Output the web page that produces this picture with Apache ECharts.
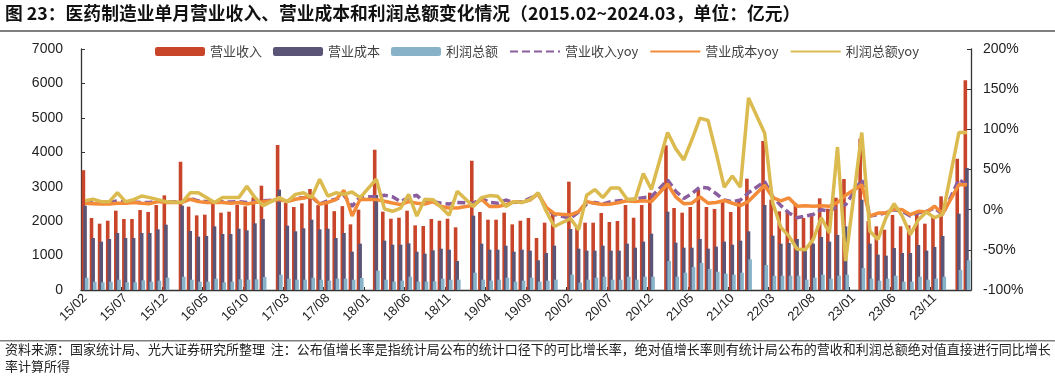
<!DOCTYPE html>
<html><head><meta charset="utf-8">
<script src="https://cdn.jsdelivr.net/npm/echarts@6/dist/echarts.min.js"></script>
<style>html,body{margin:0;padding:0;background:#fff;}#c{width:1055px;height:379px;}</style>
</head><body><div id="c"></div>
<script>
const months = ['15/02','15/03','15/04','15/05','15/06','15/07','15/08','15/09','15/10','15/11','15/12',
'16/01','16/02','16/03','16/04','16/05','16/06','16/07','16/08','16/09','16/10','16/11','16/12',
'17/01','17/02','17/03','17/04','17/05','17/06','17/07','17/08','17/09','17/10','17/11','17/12',
'18/01','18/02','18/03','18/04','18/05','18/06','18/07','18/08','18/09','18/10','18/11','18/12',
'19/01','19/02','19/03','19/04','19/05','19/06','19/07','19/08','19/09','19/10','19/11','19/12',
'20/01','20/02','20/03','20/04','20/05','20/06','20/07','20/08','20/09','20/10','20/11','20/12',
'21/01','21/02','21/03','21/04','21/05','21/06','21/07','21/08','21/09','21/10','21/11','21/12',
'22/01','22/02','22/03','22/04','22/05','22/06','22/07','22/08','22/09','22/10','22/11','22/12',
'23/01','23/02','23/03','23/04','23/05','23/06','23/07','23/08','23/09','23/10','23/11','23/12',
'24/01','24/02','24/03'];

const revenue = [3480,2091,1926,2013,2304,2062,2062,2323,2265,2468,2749,
null,3727,2420,2168,2188,2517,2246,2275,2478,2430,2691,3030,
null,4211,2526,2410,2517,2933,2464,2513,2290,2436,1907,2333,
null,4075,2275,2071,2100,2304,1878,1858,2062,2013,2071,1820,
null,3756,2265,2042,2042,2246,1907,2013,2091,1510,1955,2236,
null,3146,1807,1955,1955,2236,1975,2004,2468,2100,2468,2827,
null,4201,2381,2246,2410,2914,2410,2352,2556,2265,2585,3233,
null,4327,2623,2285,2285,2526,2091,2236,2662,2362,2681,3223,
null,4395,2000,1849,1752,2178,1849,1878,2207,1926,2139,2720,
null,3814,6089];

const cost = [2449,1510,1404,1481,1655,1510,1510,1655,1655,1762,1897,
null,2449,1713,1549,1568,1849,1626,1626,1781,1733,1936,2062,
null,2914,1868,1704,1791,2042,1762,1781,1510,1655,1113,1346,
null,2759,1433,1316,1316,1355,1113,1055,1152,1200,1171,842,
null,2159,1346,1171,1171,1287,1113,1171,1142,862,1074,1287,
null,1771,1200,1142,1142,1287,1142,1142,1346,1229,1404,1636,
null,2275,1375,1229,1229,1481,1200,1258,1404,1316,1433,1704,
null,2468,1578,1346,1365,1481,1171,1346,1539,1404,1597,1849,
null,2623,1346,1026,997,1220,1074,1074,1307,1142,1249,1568,
null,2216,3543];

const profit = [358,242,223,242,300,223,223,280,242,271,358,
null,387,300,242,242,329,223,242,310,300,310,378,
null,445,329,300,300,358,300,271,329,329,300,348,
null,561,300,242,271,387,242,242,252,329,300,300,
null,503,300,271,300,358,242,271,358,242,271,300,
null,445,213,300,358,387,300,300,387,300,387,387,
null,842,387,503,668,784,610,532,474,445,503,890,
null,726,416,416,416,416,300,358,445,329,416,445,
null,639,329,271,329,416,242,242,387,300,329,387,
null,581,862];

const revenueYoy = [9,9,9,9,11,9,9.5,9,9,11,10,
null,10,14,11,10,10,10,9.5,10,9,10,11,
null,12.5,11,14,15,16,7,11,13,18,4,16,
null,16,18,16,10,15,18,8,10,8,7,9,
null,8,14,9,8,12,9,10,14,20,1,-6,
null,-10.5,-3,7,9,7,10,11,12,13,15,16,
null,37,23,14,20,28,27,20,12,10,12,21,
null,35,16,5,-4,-10,-8,-6,0,-2,4,6,
null,37.5,-8,-6,-4,0,-2,-8,-4,-2,2,-6,
null,37.5,31];

const costYoy = [8,7.5,7,7,8,8,9,8,7.5,10,9,
null,9,13,10,9,9,9,8,9,7,9,10,
null,12.5,10,13,14.6,16.7,7,9,12.5,24,-8,13,
null,12.5,10.4,8.3,6.3,10,8,7,10,4,2,2,
null,5.5,13,4,4,6,10,9,12,20,3,-5,
null,-6.5,-2.3,10,8,6.5,7,9,11,10,11,10,
null,32,16,7.5,8,16,8,9,11.5,8,5,10.4,
null,30.4,15,11,14.6,4.2,5,4.2,5,4.2,9,18,
null,31,-8,-4.2,-4.2,0.8,0,-6.3,-2,-3,4.2,-5,
null,31,31];

const profitYoy = [11,13,10,10,21,10,12.5,17,15,12.5,10,
null,9,21,21,15,9,15,15,15,29,15,5,
null,15,10,19,21,15,38,17,21,19,22,15,
null,38,1,-2,2,19,-8,13,12.5,3,-7,23,
null,4,15,17.5,16.7,4,10,9,12.5,21,-2,-21,
null,-11,-25,18,25,15,27,27,13,13,45,25,
null,96,76,62,87,114,111,71,28,42,28,139,
null,95,8,-22,-33,-49,-50,-37,-10,-29,78,-64,
null,96,-27,-37,-10,7.5,-8,-31,-12.5,-3,-10,-6,
null,96,96];

const leftTicks = [0, 7000, 1000];
const rightTicks = [-100, 200, 50];

const C = {
  red: '#C9452A', dark: '#5A5577', light: '#88B2C8',
  purple: '#8A5E9E', orange: '#F38B38', yellow: '#DBBB4F'
};

const chart = echarts.init(document.getElementById('c'), null, {renderer: 'canvas'});
const axisFont = 'Liberation Sans, Arial, sans-serif';
const cjk = '"Noto Sans CJK SC", sans-serif';

const barCommon = {type: 'bar', barWidth: 3.6, barGap: '-55%', yAxisIndex: 0};
const lineCommon = {type: 'line', yAxisIndex: 1, symbol: 'none', connectNulls: true, smooth: false};
const hideSym = {opacity: 0};

chart.setOption({
  animation: false,
  grid: {left: 81, right: 84, top: 49, bottom: 89, containLabel: false},
  legend: {
    top: 40, left: 150, itemWidth: 50, itemHeight: 9, itemGap: 11,
    textStyle: {fontFamily: cjk, fontSize: 13, color: '#404040'},
    data: [
      {name: '营业收入'}, {name: '营业成本'}, {name: '利润总额'},
      {name: '营业收入yoy', itemStyle: hideSym},
      {name: '营业成本yoy', itemStyle: hideSym},
      {name: '利润总额yoy', itemStyle: hideSym}
    ]
  },
  xAxis: {
    type: 'category', data: months, boundaryGap: true,
    axisLine: {lineStyle: {color: '#333', width: 1.3}},
    axisTick: {show: true, inside: true, length: 3, interval: 4, lineStyle: {color: '#333'}},
    axisLabel: {interval: 4, rotate: 45, fontFamily: axisFont, fontSize: 13, color: '#222', margin: 6}
  },
  yAxis: [{
    type: 'value', min: leftTicks[0], max: leftTicks[1], interval: leftTicks[2],
    splitLine: {show: false},
    axisLine: {show: true, lineStyle: {color: '#333', width: 1.3}},
    axisTick: {show: true, inside: true, length: 4, lineStyle: {color: '#333'}},
    axisLabel: {fontFamily: axisFont, fontSize: 14, color: '#222', margin: 18,
      formatter: function (v) { return String(v); }}
  }, {
    type: 'value', min: rightTicks[0], max: rightTicks[1], interval: rightTicks[2],
    splitLine: {show: false},
    axisLine: {show: true, lineStyle: {color: '#333', width: 1.3}},
    axisTick: {show: true, inside: true, length: 4, lineStyle: {color: '#333'}},
    axisLabel: {fontFamily: axisFont, fontSize: 14, color: '#222', margin: 12,
      formatter: function (v) { return v + '%'; }}
  }],
  series: [
    Object.assign({}, barCommon, {name: '营业收入', data: revenue, itemStyle: {color: C.red}}),
    Object.assign({}, barCommon, {name: '营业成本', data: cost, itemStyle: {color: C.dark}}),
    Object.assign({}, barCommon, {name: '利润总额', data: profit, itemStyle: {color: C.light}}),
    Object.assign({}, lineCommon, {name: '营业收入yoy', data: revenueYoy, itemStyle: {color: C.purple},
      lineStyle: {color: C.purple, width: 3.5, type: [8, 4]}}),
    Object.assign({}, lineCommon, {name: '营业成本yoy', data: costYoy, itemStyle: {color: C.orange},
      lineStyle: {color: C.orange, width: 3.5}}),
    Object.assign({}, lineCommon, {name: '利润总额yoy', data: profitYoy, itemStyle: {color: C.yellow},
      lineStyle: {color: C.yellow, width: 3.5}})
  ],
  graphic: [
    {type: 'text', left: 5, top: 4, style: {text: '图 23：医药制造业单月营业收入、营业成本和利润总额变化情况（2015.02~2024.03，单位：亿元）',
      font: 'bold 17.8px "Noto Sans CJK SC", sans-serif', fill: '#111'}},
    {type: 'rect', shape: {x: 0, y: 30, width: 1055, height: 2}, style: {fill: '#7f7f7f'}},
    {type: 'rect', shape: {x: 0, y: 340, width: 1055, height: 1.5}, style: {fill: '#7f7f7f'}},
    {type: 'text', left: 5, top: 343, style: {text: '资料来源：国家统计局、光大证券研究所整理  注：公布值增长率是指统计局公布的统计口径下的可比增长率，绝对值增长率则有统计局公布的营收和利润总额绝对值直接进行同比增长',
      font: '13px "Noto Sans CJK SC", sans-serif', fill: '#222'}},
    {type: 'text', left: 5, top: 360, style: {text: '率计算所得', font: '13px "Noto Sans CJK SC", sans-serif', fill: '#222'}}
  ]
});
</script></body></html>
